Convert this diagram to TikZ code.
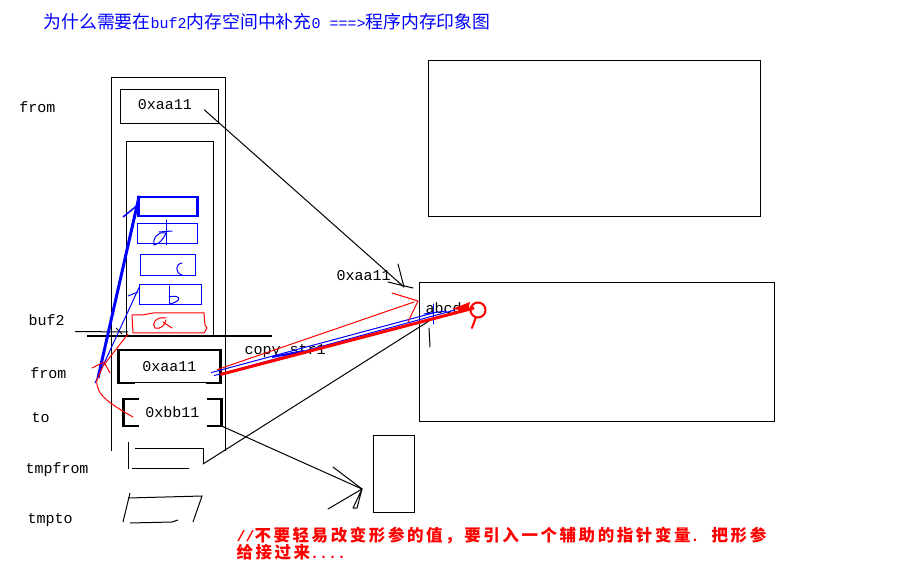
\documentclass[tikz,border=0pt]{standalone}
\usepackage{fontspec}
\setmainfont{Liberation Serif}
\newfontfamily\hanzi{Noto Sans CJK SC}
\newfontfamily\hanzisp{Noto Sans CJK SC}[LetterSpace=15.6]
\newfontfamily\labmono{Liberation Mono}
\newcommand\lmono{\labmono\fontsize{15}{15}\selectfont}
\newcommand\hz{\hanzi\fontsize{17.85}{18}\selectfont}
\newcommand\hzs{\hanzisp\fontsize{16.5}{16.5}\selectfont}

\begin{document}
\begin{tikzpicture}[x=1pt,y=-1pt,line width=1pt,line join=miter,
  lab/.style={font=\lmono, inner sep=0pt, anchor=base west},
  frame/.style={draw, line width=1pt, inner sep=0pt},
  cellbox/.style={draw=blue, line width=1pt, inner sep=0pt},
  thk/.style={line width=2.5pt},
  hand/.style={line width=1pt, line cap=round, line join=round}]

\fill[white] (0,0) rectangle (898,572);
\useasboundingbox (0,0) rectangle (898,572);

% ---------- heading ----------
\node[anchor=base west, inner sep=0pt, text=blue] (title) at (43,29)
  {\hz 为什么需要在{\lmono buf2}内存空间中补充{\lmono 0 ===>}程序内存印象图};

% ---------- variable names ----------
\node[lab] (nfrom1) at (19,113) {from};
\node[lab] (nbuf)   at (28,326) {buf2};
\node[lab] (nfrom2) at (30,378) {from};
\node[lab] (nto)    at (31,422) {to};
\node[lab] (ntf)    at (25,473) {tmpfrom};
\node[lab] (ntt)    at (27,523) {tmpto};

% ---------- stack frame of main ----------
\draw (111,451) -- (111,78) -- (225,78) -- (225,451);
\node[frame, minimum width=98, minimum height=34] (ftop) at (169,107) {};
\node[font=\lmono, inner sep=0pt] (ftoptxt) at (165,105) {0xaa11};

% buf2 area
\draw (126,337) -- (126,142) -- (213,142) -- (213,337);
\node[cellbox, line width=2.5pt, minimum width=59, minimum height=19] (cell0) at (168,206.5) {};
\node[cellbox, minimum width=60, minimum height=20] (cell1) at (167,234) {};
\node[cellbox, minimum width=55, minimum height=21] (cell2) at (167.5,265.5) {};
\node[cellbox, minimum width=62, minimum height=20] (cell3) at (170,295) {};
\draw[red, hand] (132,315) -- (142,315) -- (153,313) -- (204,313) -- (205,325)
  -- (207,328) -- (204,333) -- (133,333) -- cycle;

% hand-written letters in the cells
\draw[blue, hand] (165,233) .. controls (157,231) and (152,240) .. (154,245)
  .. controls (159,244) and (163,240) .. (166,233);
\draw[blue, hand] (166,220) -- (166,245);
\draw[blue, hand] (159,232) -- (172,231);
\draw[blue, hand] (182,263) .. controls (175,264) and (175,273) .. (182,275);
\draw[blue, hand] (169,286) -- (169,304);
\draw[blue, hand] (169,297) .. controls (178,294) and (185,300) .. (170,304);
\draw[red, hand] (166,318) .. controls (156,316) and (151,324) .. (155,328)
  .. controls (160,330) and (165,325) .. (166,320);
\draw[red, hand] (163,322) -- (172,328);

% frame boundary
\draw[line width=2pt] (87,336.5) -- (272,336.5);
\draw (75,331.5) -- (128,332);
\draw (116,328) -- (122,334);

% ---------- stack frame of copy_str1 ----------
\node[font=\lmono, inner sep=0pt, minimum width=101, minimum height=32] (pfrom) at (169.5,366.5) {0xaa11};
\draw[thk] ([xshift=16pt]pfrom.south west) -- (pfrom.south west) -- (pfrom.north west)
  -- (pfrom.north east) -- (pfrom.south east) -- ([xshift=-15pt]pfrom.south east);
\draw ([xshift=16pt]pfrom.south west) -- ([xshift=-15pt]pfrom.south east);

\node[font=\lmono, inner sep=0pt, minimum width=97, minimum height=26] (pto) at (172.5,412.5) {0xbb11};
\draw[thk] ([xshift=15pt]pto.north west) -- (pto.north west) -- (pto.south west) -- ([xshift=15pt]pto.south west);
\draw[thk] ([xshift=-15pt]pto.north east) -- (pto.north east) -- (pto.south east) -- ([xshift=-15pt]pto.south east);

% tmpfrom / tmpto cells
\draw (128,442) -- (128,469);
\draw (135,448) -- (203,448) -- (203,464);
\draw (132,468) -- (189,468);
\coordinate (tfc) at (203,464);
\draw (130,493) -- (123,522);
\draw (128,498) -- (202,496) -- (193,522);
\draw (130,523) -- (172,522) -- (178,520);

% ---------- memory blocks ----------
\node[frame, minimum width=332, minimum height=156] (heap) at (594,139) {};
\node[frame, minimum width=355, minimum height=138] (strbox) at (596.5,352) {};
\node[frame, minimum width=41, minimum height=77] (small) at (393.5,473.5) {};

\node[lab] (addr) at (336,281) {0xaa11};
\node[lab] (abcd) at (425,314) {abcd};
\node[lab] (copy) at (244,355) {copy\_str1};

% ---------- connectors ----------
% from (main) -> string
\coordinate (tipA) at (404,287);
\draw[hand] ([shift={(-14,3)}]ftop.east) -- (tipA);
\draw[hand] (398,264) -- (tipA);
\draw[hand] (388,282) -- (413,288);

% to -> small block
\coordinate (tipB) at (362,489);
\draw[hand] (pto.south east) -- (tipB);
\draw[hand] (333,467) -- (tipB);
\draw[hand] (328,509) -- (tipB);
\draw[hand] (tipB) -- (353,508) -- (357,508) -- cycle;

% tmpfrom -> string
\coordinate (tipC) at (429,321);
\draw[hand] (tfc) -- (tipC);
\draw[hand] (429,328) -- (430,347);

% copy_str1's from -> string (blue and red strokes)
\draw[blue, hand] ([shift={(-9,6)}]pfrom.east) -- (433,313);
\draw[blue, hand] ([shift={(-6,9)}]pfrom.east) -- (455,310);
\draw[blue, line width=2pt] (272,357) -- (304,351);
\draw[blue, hand] (433,304) -- (433,324);
\draw[blue, hand] (424,314) -- (446,311);

\coordinate (redtip2) at (418,301);
\draw[red, hand] ([shift={(-3,3)}]pfrom.east) -- (414,302);
\draw[red, hand] (392,293) -- (redtip2) -- (408,322);

\coordinate (redtip) at (474,308);
\draw[red, line width=3pt] ([yshift=-8pt]pfrom.east) -- (redtip);
\fill[red] (452,309) -- (470,302) -- (468,311) -- cycle;
\draw[red, line width=2pt] (478,310) circle (7.5);
\draw[red, line width=2pt, line cap=round] (476,317) -- (472,328);

% main's from -> buf2 cells (blue)
\coordinate (bA) at (98,378);
\draw[blue, line width=3pt] (bA) -- ([xshift=2pt]cell0.north west);
\draw[blue, line width=1.5pt] (123,217) -- (139,204);
\draw[blue, hand] (95,383) -- ([shift={(1,2)}]cell3.north west);
\draw[blue, hand] (128,296) -- (138,292);

% to -> buf2 (red)
\draw[red, hand] (133,417) .. controls (112,405) and (95,395) .. (97,380) -- (103,366) -- (128,334);
\draw[red, hand] (92,368) -- (104,362) -- (110,373);

% ---------- note ----------
\node[anchor=base west, inner sep=0pt, text=red, font=\bfseries] (note1) at (236,541)
  {\lmono //\hzs 不要轻易改变形参的值，要引入一个辅助的指针变量\lmono. \hzs 把形参};
\node[anchor=base west, inner sep=0pt, text=red, font=\bfseries] (note2) at (236,558)
  {\hzs 给接过来\lmono ....};

\end{tikzpicture}
\end{document}
